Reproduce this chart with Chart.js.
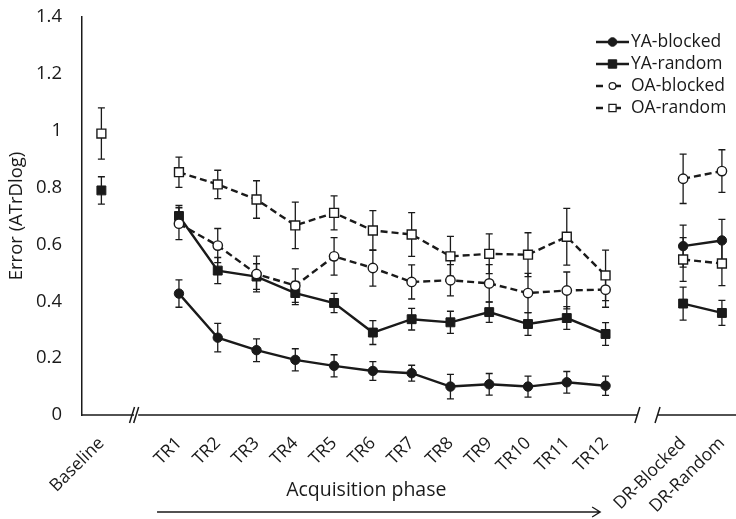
<!DOCTYPE html>
<html>
<head>
<meta charset="utf-8">
<title>Error (ATrDlog) by phase</title>
<script src="https://cdn.jsdelivr.net/npm/chart.js@4.4.1/dist/chart.umd.min.js"></script>
<style>
  body { margin: 0; background: #fff; overflow: hidden; }
  canvas { display: block; }
</style>
</head>
<body>
<!-- a little wider than the window: the x axis runs off the right edge as in the original figure -->
<canvas id="errorChart" width="749" height="519"></canvas>
<script>
// empty strings are the gaps at the axis breaks
const categories = ["Baseline", "", "TR1", "TR2", "TR3", "TR4", "TR5", "TR6", "TR7", "TR8",
  "TR9", "TR10", "TR11", "TR12", "", "DR-Blocked", "DR-Random"];

const yaBlocked = [null, null, 0.427, 0.272, 0.228, 0.194, 0.173, 0.155, 0.147, 0.100,
  0.108, 0.100, 0.115, 0.103, null, 0.594, 0.614];
const yaBlockedErr = [null, null, 0.048, 0.050, 0.040, 0.039, 0.039, 0.033, 0.028, 0.043,
  0.038, 0.037, 0.038, 0.034, null, 0.074, 0.074];

const yaRandom = [0.790, null, 0.700, 0.508, 0.487, 0.429, 0.394, 0.290, 0.337, 0.326,
  0.362, 0.320, 0.341, 0.285, null, 0.392, 0.359];
const yaRandomErr = [0.048, null, 0.037, 0.046, 0.045, 0.041, 0.034, 0.042, 0.038, 0.039,
  0.036, 0.040, 0.040, 0.040, null, 0.058, 0.044];

const oaBlocked = [null, null, 0.673, 0.596, 0.496, 0.455, 0.558, 0.517, 0.468, 0.474,
  0.463, 0.429, 0.438, 0.441, null, 0.831, 0.858];
const oaBlockedErr = [null, null, 0.056, 0.060, 0.063, 0.059, 0.066, 0.064, 0.060, 0.055,
  0.066, 0.069, 0.065, 0.062, null, 0.087, 0.075];

const oaRandom = [0.990, null, 0.854, 0.811, 0.758, 0.667, 0.711, 0.649, 0.635, 0.558,
  0.567, 0.564, 0.627, 0.491, null, 0.547, 0.533];
const oaRandomErr = [0.090, null, 0.053, 0.050, 0.066, 0.082, 0.060, 0.070, 0.077, 0.070,
  0.070, 0.077, 0.100, 0.089, null, 0.077, 0.078];

const FONT = "'Open Sans', sans-serif";
const INK = "#1a1a1a";

Chart.defaults.font.family = FONT;
Chart.defaults.color = INK;

function series(label, data, err, style, open, dashed, order) {
  return {
    label,
    data,
    err,
    order,
    borderColor: INK,
    borderWidth: 2.4,
    borderDash: dashed ? [7, 4] : [],
    pointStyle: style,
    pointRadius: style === "rect" ? 6.3 : 4.7,
    pointHoverRadius: style === "rect" ? 6.3 : 4.7,
    pointBackgroundColor: open ? "#fff" : INK,
    pointBorderColor: INK,
    pointBorderWidth: open ? 1.4 : 1,
    spanGaps: false,
    fill: false,
    tension: 0,
  };
}

const errorBars = {
  id: "errorBars",
  beforeDatasetsDraw(chart) {
    const { ctx } = chart;
    const y = chart.scales.y;
    ctx.save();
    ctx.strokeStyle = INK;
    ctx.lineWidth = 1.3;
    ctx.setLineDash([]);
    chart.data.datasets.forEach((ds, di) => {
      const meta = chart.getDatasetMeta(di);
      ds.data.forEach((v, i) => {
        if (v == null || ds.err[i] == null) return;
        const x = meta.data[i].x;
        const top = y.getPixelForValue(v + ds.err[i]);
        const bot = y.getPixelForValue(v - ds.err[i]);
        ctx.beginPath();
        ctx.moveTo(x, top); ctx.lineTo(x, bot);
        ctx.moveTo(x - 3.5, top); ctx.lineTo(x + 3.5, top);
        ctx.moveTo(x - 3.5, bot); ctx.lineTo(x + 3.5, bot);
        ctx.stroke();
      });
    });
    ctx.restore();
  },
};

const axisDecor = {
  id: "axisDecor",
  afterDraw(chart) {
    const { ctx, chartArea } = chart;
    const x = chart.scales.x;
    const yb = chartArea.bottom;
    const px = (v) => x.getPixelForValue(v);
    ctx.save();
    ctx.strokeStyle = INK;
    ctx.lineWidth = 1.5;
    ctx.setLineDash([]);

    const b1 = px(0.79), b2 = px(1.0);
    const b3 = px(13.82), b4 = px(14.34);
    ctx.beginPath();
    ctx.moveTo(chartArea.left, yb); ctx.lineTo(b1 + 2, yb);
    ctx.moveTo(b2 - 2, yb); ctx.lineTo(b3, yb);
    ctx.moveTo(b4, yb); ctx.lineTo(chartArea.right, yb);
    // break slashes
    [b1, b2 - 4, b3, b4].forEach((bx) => {
      ctx.moveTo(bx - 2.5, yb + 8); ctx.lineTo(bx + 2.5, yb - 8);
    });
    ctx.stroke();

    // arrow under the acquisition trials
    const ay = 512;
    const a1 = px(1.435), a2 = px(12.86);
    ctx.lineWidth = 1.4;
    ctx.beginPath();
    ctx.moveTo(a1, ay); ctx.lineTo(a2, ay);
    ctx.moveTo(a2 - 8, ay - 5); ctx.lineTo(a2, ay); ctx.lineTo(a2 - 8, ay + 5);
    ctx.stroke();

    ctx.fillStyle = INK;
    ctx.font = "19.5px " + FONT;
    ctx.textAlign = "center";
    ctx.textBaseline = "middle";
    ctx.fillText("Acquisition phase", px(6.83), 490);
    ctx.restore();
  },
};

const lineLegend = {
  id: "lineLegend",
  afterDraw(chart) {
    const { ctx } = chart;
    const rows = [42, 64, 86, 108];
    ctx.save();
    chart.data.datasets.forEach((ds, i) => {
      const ry = rows[i];
      ctx.strokeStyle = INK;
      ctx.lineWidth = 2.4;
      ctx.setLineDash(ds.borderDash.length ? [7, 11] : []);
      ctx.beginPath();
      ctx.moveTo(596, ry); ctx.lineTo(629, ry);
      ctx.stroke();
      ctx.setLineDash([]);
      const mx = 612.5;
      const open = ds.pointBackgroundColor === "#fff";
      ctx.fillStyle = ds.pointBackgroundColor;
      ctx.lineWidth = open ? 1.2 : 1;
      ctx.beginPath();
      if (ds.pointStyle === "rect") {
        const s = open ? 3.6 : 4.2;
        ctx.rect(mx - s, ry - s, 2 * s, 2 * s);
      } else {
        ctx.arc(mx, ry, open ? 3.4 : 4.3, 0, Math.PI * 2);
      }
      ctx.fill();
      ctx.stroke();
      ctx.fillStyle = INK;
      ctx.font = "17.5px " + FONT;
      ctx.textAlign = "left";
      ctx.textBaseline = "middle";
      ctx.fillText(ds.label, 631, ry);
    });
    ctx.restore();
  },
};

new Chart(document.getElementById("errorChart"), {
  type: "line",
  data: {
    labels: categories,
    datasets: [
      series("YA-blocked", yaBlocked, yaBlockedErr, "circle", false, false, 4),
      series("YA-random", yaRandom, yaRandomErr, "rect", false, false, 3),
      series("OA-blocked", oaBlocked, oaBlockedErr, "circle", true, true, 2),
      series("OA-random", oaRandom, oaRandomErr, "rect", true, true, 1),
    ],
  },
  options: {
    responsive: false,
    animation: false,
    layout: { padding: { top: 17, right: 0, bottom: 0, left: 0 } },
    plugins: {
      legend: { display: false },
      tooltip: { enabled: false },
    },
    scales: {
      x: {
        type: "category",
        offset: true,
        grid: { display: false, drawTicks: false },
        border: { display: false },
        ticks: {
          autoSkip: false,
          minRotation: 45,
          maxRotation: 45,
          padding: 18,
          font: { size: 17.5 },
          color: INK,
        },
        afterFit(scale) {
          scale.height = 104;
          scale.paddingLeft = 0;
          scale.paddingRight = 0;
        },
      },
      y: {
        min: 0,
        max: 1.4,
        grid: { display: false, drawTicks: false },
        border: { display: true, color: INK, width: 1.5 },
        ticks: {
          stepSize: 0.2,
          padding: 20,
          font: { size: 18.5 },
          color: INK,
          callback: (v) => String(Number(v.toFixed(1))),
        },
        title: {
          display: true,
          text: "Error (ATrDlog)",
          font: { size: 18.5 },
          color: INK,
          padding: { top: 6, bottom: 0 },
        },
        afterFit(scale) {
          scale.width = 82;
          scale.paddingTop = 0;
          scale.paddingBottom = 0;
        },
      },
    },
  },
  plugins: [errorBars, axisDecor, lineLegend],
});
</script>
</body>
</html>
